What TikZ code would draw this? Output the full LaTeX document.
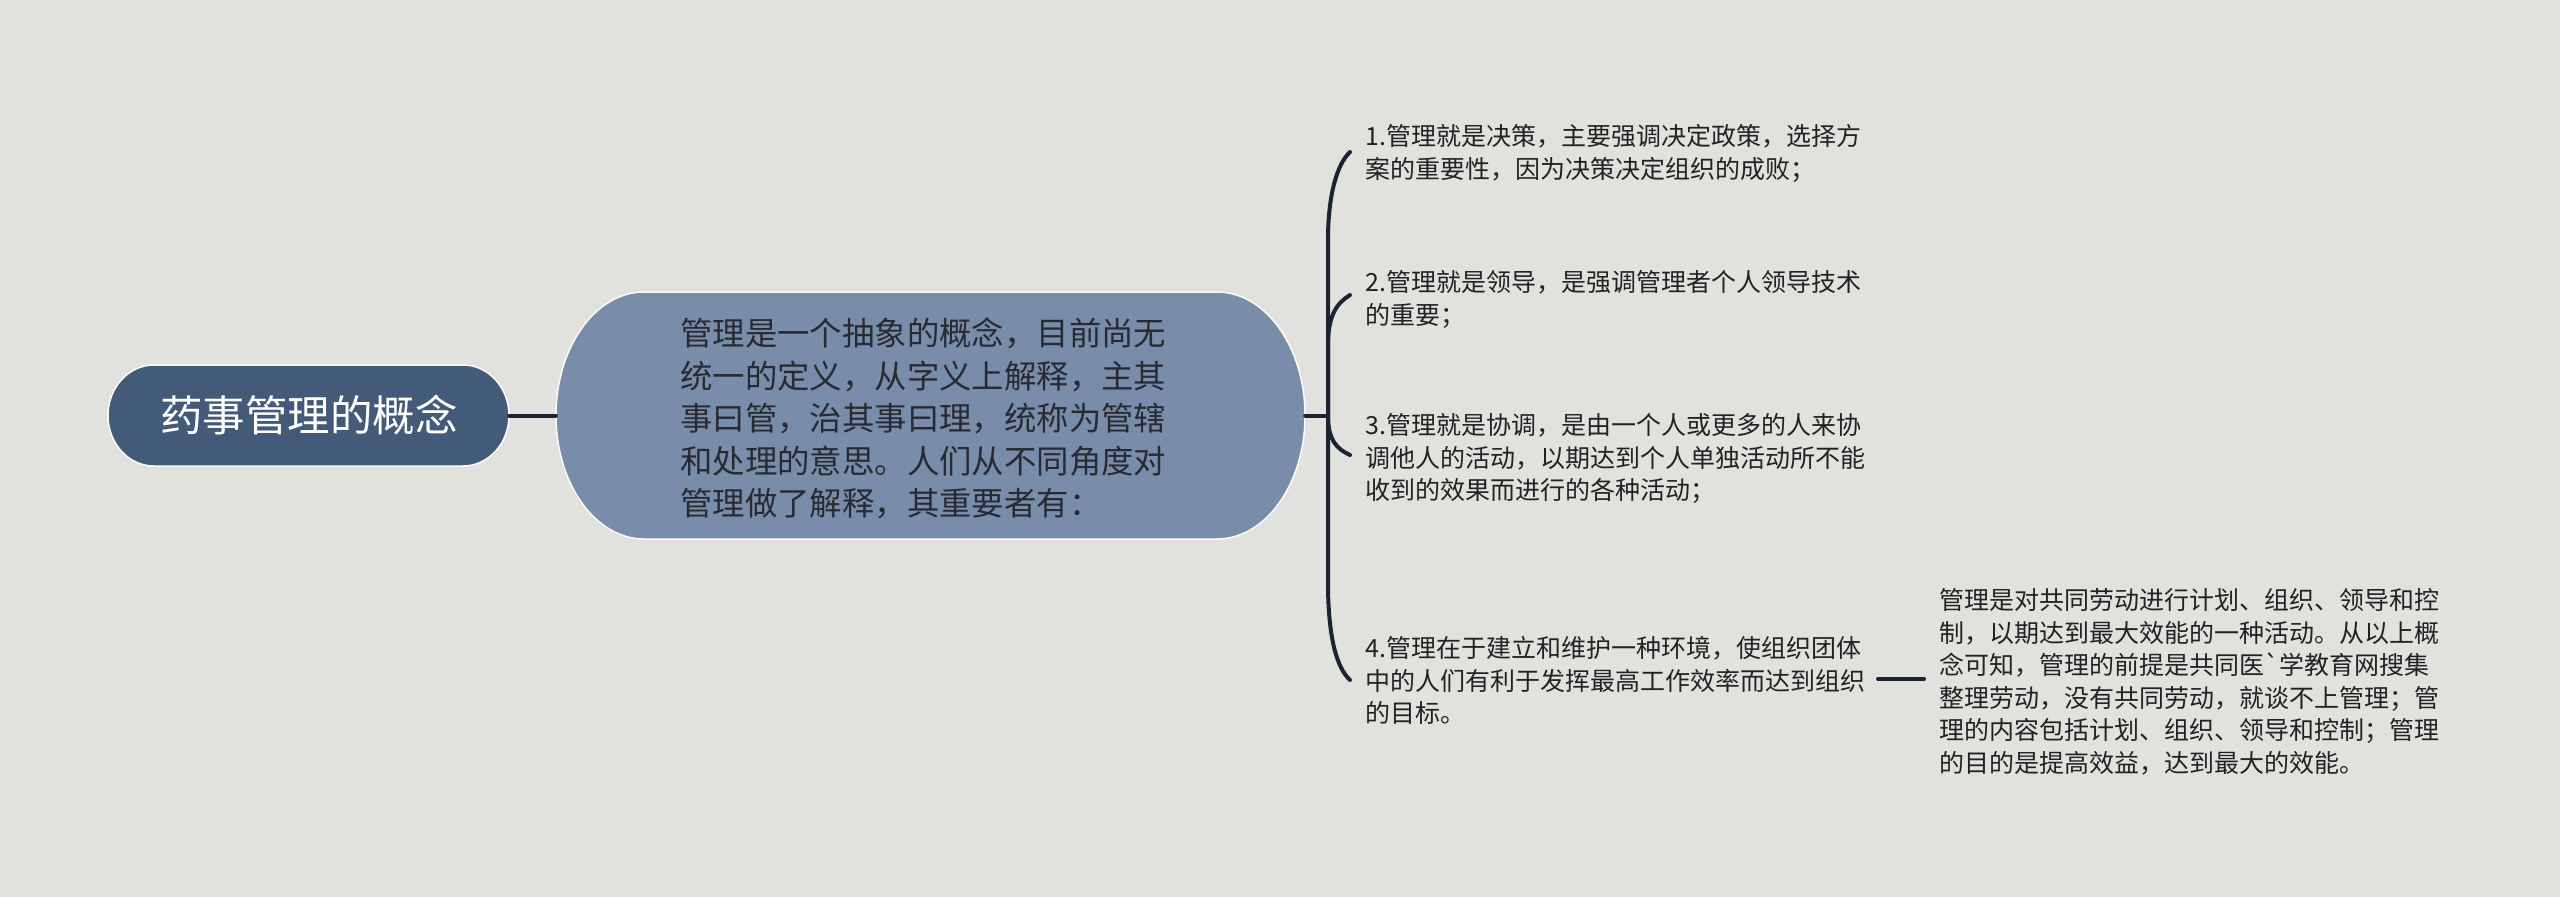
\documentclass[tikz,border=0pt]{standalone}
\usepackage{fontspec}
\setmainfont{Noto Sans CJK SC}
\newfontfamily\plainfont{Noto Sans CJK SC}
\definecolor{bg}{HTML}{E1E2DE}
\definecolor{rootfill}{HTML}{445A79}
\definecolor{midfill}{HTML}{798DAB}
\definecolor{linec}{HTML}{1B2332}
\definecolor{txt}{HTML}{222222}
\definecolor{midtxt}{HTML}{272B31}
\tikzset{
  box/.style={rectangle, draw=none, inner sep=0pt},
  shapefill/.style={draw=white!85!bg, line width=1.5pt},
  conn/.style={draw=linec, line width=4pt, line cap=round},
  itemtext/.style={anchor=base west, inner sep=0pt, text width=540pt, align=left,
    font=\fontsize{25}{32.5}\selectfont, text=txt},
}
\begin{document}
\begin{tikzpicture}[x=1pt,y=-1pt]
\useasboundingbox[fill=bg] (0,0) rectangle (2560,897);

% root
\fill[rootfill, shapefill] (154,365) -- (463,365)
  arc[start angle=-90,end angle=90,x radius=46,y radius=50.5]
  -- (154,466) arc[start angle=90,end angle=270,x radius=46,y radius=50.5] -- cycle;
\node[box, minimum width=401pt, minimum height=101pt] (root) at (308.5,415.5) {};
\node[anchor=base, inner sep=0pt, text=white, font=\fontsize{42.5}{50}\selectfont] (roottext) at (309,431) {药事管理的概念};

% central
\fill[midfill, shapefill] (644,292) -- (1217,292)
  arc[start angle=-90,end angle=90,x radius=88,y radius=123.5]
  -- (644,539) arc[start angle=90,end angle=270,x radius=88,y radius=123.5] -- cycle;
\node[box, minimum width=749pt, minimum height=247pt] (mid) at (930.5,415.5) {};
\node[anchor=base west, inner sep=0pt, text width=520pt, align=left, text=midtxt,
  font=\fontsize{32.4}{42.5}\selectfont] (midtext) at (680,345.5)
  {管理是一个抽象的概念，目前尚无\\统一的定义，从字义上解释，主其\\事曰管，治其事曰理，统称为管辖\\和处理的意思。人们从不同角度对\\管理做了解释，其重要者有：};

\draw[conn] (root.east) -- (mid.west);

% items
\node[itemtext] (it1) at (1365,145.5) {1.管理就是决策，主要强调决定政策，选择方\\案的重要性，因为决策决定组织的成败；};
\node[itemtext] (it2) at (1365,291.5) {2.管理就是领导，是强调管理者个人领导技术\\的重要；};
\node[itemtext] (it3) at (1365,434.5) {3.管理就是协调，是由一个人或更多的人来协\\调他人的活动，以期达到个人单独活动所不能\\收到的效果而进行的各种活动；};
\node[itemtext] (it4) at (1365,657.5) {4.管理在于建立和维护一种环境，使组织团体\\中的人们有利于发挥最高工作效率而达到组织\\的目标。};
\node[itemtext] (fin) at (1939,609.5) {管理是对共同劳动进行计划、组织、领导和控\\制，以期达到最大效能的一种活动。从以上概\\念可知，管理的前提是共同医{\plainfont `}学教育网搜集\\整理劳动，没有共同劳动，就谈不上管理；管\\理的内容包括计划、组织、领导和控制；管理\\的目的是提高效益，达到最大的效能。};

\coordinate (fork) at (1328,415.5);
\coordinate (e1) at (1350,152);
\coordinate (e2) at (1350,295);
\coordinate (e3) at (1350,455);
\coordinate (e4) at (1350,680);
\coordinate (s1) at (1328,240);
\coordinate (s2) at (1328,345);
\coordinate (s4) at (1328,590);
\coordinate (f1) at (1878,679);
\coordinate (f2) at (1924,679);

\draw[conn] (mid.east) -- (fork);
\draw[conn] (fork) -- (s1) .. controls +(0,-45) and +(-13,12) .. (e1);
\draw[conn] (fork) -- (s2) .. controls +(0,-30) and +(-13,8) .. (e2);
\draw[conn] (fork) .. controls +(0,25) and +(-13,-6) .. (e3);
\draw[conn] (fork) -- (s4) .. controls +(1,50) and +(-13,-12) .. (e4);
\draw[conn] (f1) -- (f2);
\end{tikzpicture}
\end{document}
